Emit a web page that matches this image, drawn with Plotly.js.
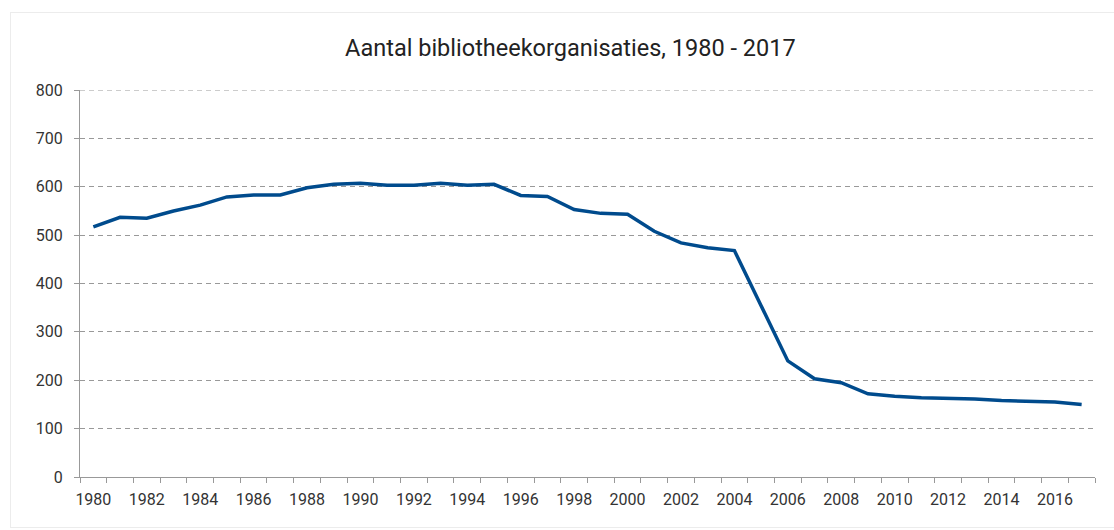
<!DOCTYPE html>
<html>
<head>
<meta charset="utf-8">
<script src="https://cdn.plot.ly/plotly-3.0.1.min.js"></script>
<style>
  html, body { margin: 0; padding: 0; background: #fff; }
  #frame { position: absolute; left: 10px; top: 12px; width: 1110px; height: 516px; border: 1px solid #ececec; box-sizing: border-box; }
  #chart { position: absolute; left: 0; top: 0; width: 1114px; height: 530px; }
</style>
</head>
<body>
<div id="frame"></div>
<div id="chart"></div>
<script>
const years = [1980,1981,1982,1983,1984,1985,1986,1987,1988,1989,1990,1991,1992,1993,1994,1995,1996,1997,1998,1999,2000,2001,2002,2003,2004,2005,2006,2007,2008,2009,2010,2011,2012,2013,2014,2015,2016,2017];
const organisaties = [517,537,535,550,562,579,583,583,598,605,607,603,603,607,603,605,582,580,553,545,543,508,484,474,468,352,240,203,195,172,167,164,163,161,158,157,155,150];
const xTickVals = [1980,1982,1984,1986,1988,1990,1992,1994,1996,1998,2000,2002,2004,2006,2008,2010,2012,2014,2016];
const yTickVals = [0,100,200,300,400,500,600,700,800];
const yMax = 800;

const trace = {
  x: years,
  y: organisaties,
  type: 'scatter',
  mode: 'lines',
  line: { color: '#004b8d', width: 3.5 },
  hoverinfo: 'x+y'
};

const layout = {
  width: 1114,
  height: 530,
  margin: { l: 80, r: 19, t: 90, b: 53 },
  paper_bgcolor: 'rgba(0,0,0,0)',
  plot_bgcolor: 'rgba(0,0,0,0)',
  font: { family: 'Roboto, sans-serif', color: '#333', size: 16 },
  title: {
    text: 'Aantal bibliotheekorganisaties, 1980 - 2017',
    font: { family: 'Roboto, sans-serif', size: 23.5, color: '#222' },
    x: 0.512, xanchor: 'center', y: 0.909, yanchor: 'middle'
  },
  showlegend: false,
  shapes: [{
    type: 'line', xref: 'paper', x0: 0, x1: 1, yref: 'y', y0: yMax, y1: yMax,
    line: { color: '#999', width: 1, dash: '5px,4px' }, layer: 'below'
  }],
  xaxis: {
    type: 'linear',
    range: [1979.5, 2017.5],
    tickvals: xTickVals,
    ticktext: xTickVals.map(String),
    ticks: 'outside',
    ticklen: 0,
    tickcolor: '#999',
    ticklabelstandoff: 8,
    showgrid: false,
    zeroline: false,
    showline: true,
    linecolor: '#999',
    linewidth: 1,
    tickfont: { size: 16, color: '#333' },
    minor: { tick0: 1979.5, dtick: 1, ticks: 'outside', ticklen: 5, tickcolor: '#999', showgrid: false }
  },
  yaxis: {
    range: [0, yMax],
    tickvals: yTickVals,
    ticks: 'outside',
    ticklen: 5,
    tickcolor: '#999',
    ticklabelstandoff: 8,
    showline: true,
    linecolor: '#999',
    linewidth: 1,
    showgrid: true,
    gridcolor: '#999',
    griddash: '5px,4px',
    gridwidth: 1,
    zeroline: false,
    tickfont: { size: 16, color: '#333' }
  }
};

Plotly.newPlot('chart', [trace], layout, { displayModeBar: false, staticPlot: true });
</script>
</body>
</html>
